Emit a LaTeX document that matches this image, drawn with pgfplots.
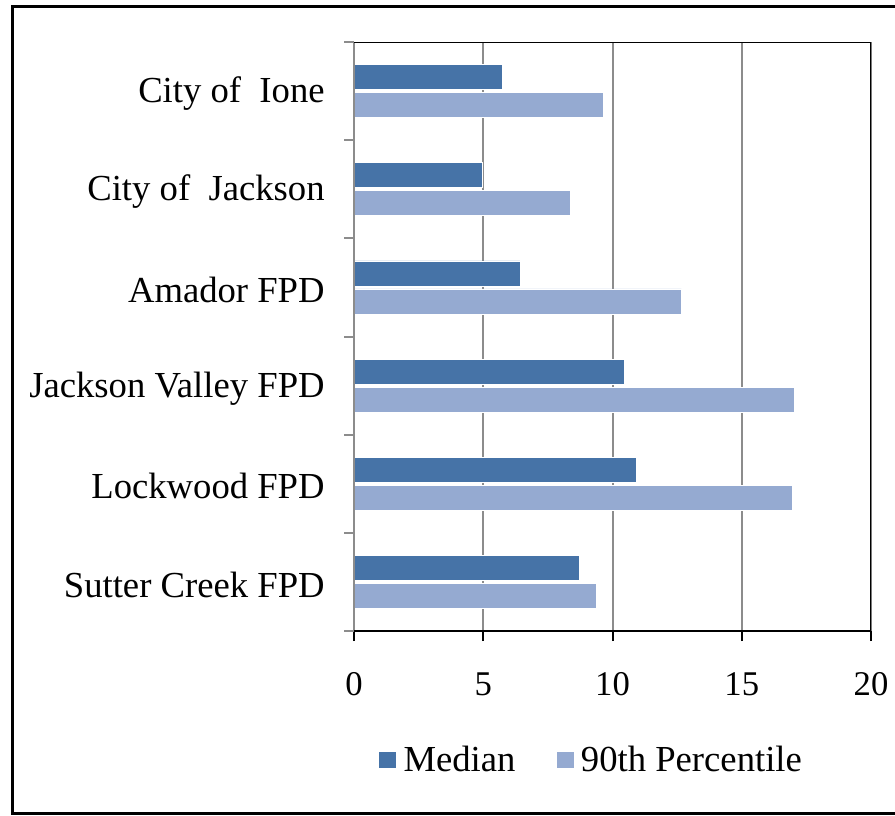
\documentclass[border=0pt]{standalone}
\usepackage{pgfplots}
\pgfplotsset{compat=1.18}
\usepackage{fontspec}
\setmainfont{Liberation Serif}
\definecolor{medc}{RGB}{70,115,167}
\definecolor{pctc}{RGB}{149,170,209}
\definecolor{gridc}{RGB}{140,140,140}
\begin{document}
\begin{tikzpicture}
\useasboundingbox (0,0) rectangle (671.25pt,611.25pt);
\fill[white] (0,0) rectangle (671.25pt,611.25pt);
\draw[line width=2.25pt] (690pt,606pt) -- (9pt,606pt) -- (9pt,1.5pt) -- (690pt,1.5pt);
\begin{axis}[
  at={(265.5pt,138pt)}, anchor=south west,
  scale only axis, width=387.75pt, height=441.75pt,
  xbar, bar width=18.75pt,
  xmin=0, xmax=20, ymin=-0.5, ymax=5.5,
  xtick={0,5,10,15,20},
  ytick={-0.5,0.5,1.5,2.5,3.5,4.5,5.5},
  yticklabels={,,,,,,},
  extra y ticks={0,1,2,3,4,5},
  extra y tick labels={Sutter Creek FPD, Lockwood FPD, Jackson Valley FPD, Amador FPD, City of\ \ Jackson, City of\ \ Ione},
  extra y tick style={tick style={draw=none}},
  tick align=outside, xtick pos=bottom, ytick pos=left,
  major tick length=7.5pt,
  ytick style={gridc, line width=1.5pt},
  xtick style={black, line width=1.5pt},
  xmajorgrids, grid style={gridc, line width=1.5pt},
  axis line style={draw=none},
  tick label style={font=\fontsize{26}{30}\selectfont},
  yticklabel style={font=\fontsize{27.5}{32}\selectfont, xshift=-11pt, yshift=-2pt},
  /pgf/number format/assume math mode=true,
  xticklabel style={yshift=-20pt},
  legend style={draw=none, fill=none, at={(0.046,-0.219)}, anchor=west,
    legend columns=2, font=\fontsize{27.5}{32}\selectfont,
    /tikz/every odd column/.append style={column sep=3pt},
    /tikz/every even column/.append style={column sep=28pt},
    inner sep=0pt},
  legend image code/.code={\fill[#1] (0pt,-6.5pt) rectangle (13.5pt,6.5pt);},
]
\addplot[fill=medc, draw=white, line width=0.6pt, bar shift=10.5pt] coordinates {
 (8.71,0) (10.92,1) (10.45,2) (6.42,3) (4.98,4) (5.76,5)};
\addplot[fill=pctc, draw=white, line width=0.6pt, bar shift=-10.5pt] coordinates {
 (9.37,0) (16.96,1) (17.05,2) (12.66,3) (8.36,4) (9.64,5)};
\legend{Median, 90th Percentile}
\draw[gridc, line width=1.5pt] (rel axis cs:0,0) -- (rel axis cs:0,1);
\draw[black, line width=1.1pt] (rel axis cs:0,1) -- (rel axis cs:1,1);
\draw[black, line width=1.5pt] (rel axis cs:1,1) -- (rel axis cs:1,0);
\draw[black, line width=2.25pt] (rel axis cs:0,0) -- (rel axis cs:1,0);
\end{axis}
\end{tikzpicture}
\end{document}
